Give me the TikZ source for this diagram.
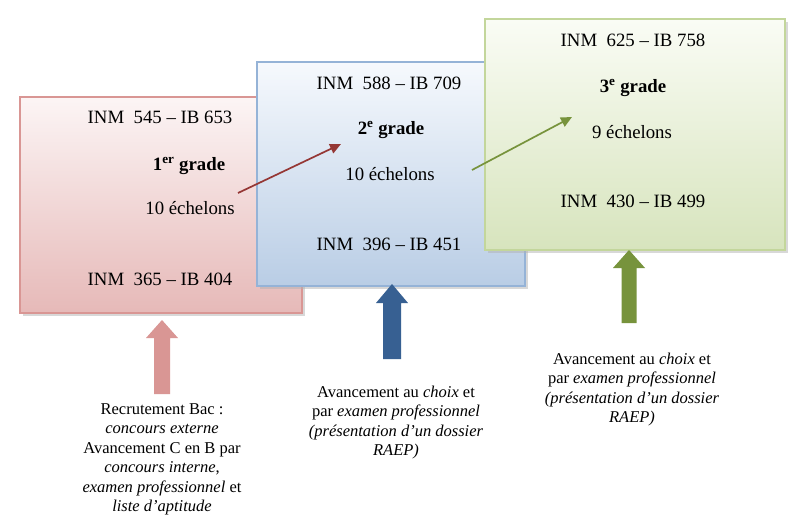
\documentclass[tikz,border=0pt]{standalone}
\usepackage{fontspec}
\setmainfont{Liberation Serif}
\usetikzlibrary{arrows.meta,shadows}
\definecolor{pinkline}{RGB}{217,150,148}
\definecolor{pinktop}{RGB}{252,245,245}
\definecolor{pinkbot}{RGB}{230,185,184}
\definecolor{blueline}{RGB}{149,179,215}
\definecolor{bluetop}{RGB}{246,249,253}
\definecolor{bluebot}{RGB}{185,205,229}
\definecolor{greenline}{RGB}{195,214,155}
\definecolor{greentop}{RGB}{250,252,245}
\definecolor{greenbot}{RGB}{215,228,189}
\definecolor{redarrow}{RGB}{149,55,53}
\definecolor{bluearrow}{RGB}{55,96,146}
\definecolor{greenarrow}{RGB}{119,147,60}
\tikzset{
  gradebox/.style={rectangle, line width=1.2pt, inner sep=0pt,
    drop shadow={shadow xshift=3pt, shadow yshift=-3pt, fill=black!30}},
  boxtext/.style={anchor=base, inner sep=0pt, font=\fontsize{18.8}{22}\selectfont},
  lowtext/.style={anchor=base, inner sep=0pt, align=center, font=\fontsize{16.5}{19.5}\selectfont},
  thinarrow/.style={line width=1.7pt, -{Triangle[length=11pt,width=10pt]}}
}
\begin{document}
\begin{tikzpicture}[x=1pt, y=-1pt]
\useasboundingbox[fill=white] (0,0) rectangle (800,531);
\node[gradebox, draw=pinkline, top color=pinktop, bottom color=pinkbot,
  minimum width=282pt, minimum height=216pt] (g1) at (161,205) {};
\node[gradebox, draw=blueline, top color=bluetop, bottom color=bluebot,
  minimum width=268pt, minimum height=224pt] (g2) at (391,174) {};
\node[gradebox, draw=greenline, top color=greentop, bottom color=greenbot,
  minimum width=300pt, minimum height=231pt] (g3) at (635,134.5) {};
\node[boxtext] (g1max) at (160,123) {INM\ \ 545 -- IB 653};
\node[boxtext] (g1name) at (189,170) {\textbf{1\textsuperscript{er} grade}};
\node[boxtext] (g1ech) at (190,214) {10 échelons};
\node[boxtext] (g1min) at (160,285) {INM\ \ 365 -- IB 404};
\node[boxtext] (g2max) at (389,89) {INM\ \ 588 -- IB 709};
\node[boxtext] (g2name) at (391,134) {\textbf{2\textsuperscript{e} grade}};
\node[boxtext] (g2ech) at (390,180) {10 échelons};
\node[boxtext] (g2min) at (389,250) {INM\ \ 396 -- IB 451};
\node[boxtext] (g3max) at (633,46) {INM\ \ 625 -- IB 758};
\node[boxtext] (g3name) at (633,92) {\textbf{3\textsuperscript{e} grade}};
\node[boxtext] (g3ech) at (632,138) {9 échelons};
\node[boxtext] (g3min) at (633,207) {INM\ \ 430 -- IB 499};
\coordinate (r1) at (238,193); \coordinate (r2) at (341,144);
\coordinate (v1) at (472,170); \coordinate (v2) at (572,117);
\draw[thinarrow, redarrow] (r1) -- (r2);
\draw[thinarrow, greenarrow] (v1) -- (v2);
\foreach \col/\cx/\tip/\base/\bot/\sh in {pinkline/162/320/338/394/8, bluearrow/392/284/303/359/9, greenarrow/629/250/268/323/7.5}
  \fill[\col] (\cx,\tip) -- (\cx+16,\base) -- (\cx+\sh,\base) -- (\cx+\sh,\bot)
    -- (\cx-\sh,\bot) -- (\cx-\sh,\base) -- (\cx-16,\base) -- cycle;
\node[lowtext] (acces1) at (162,511.5) {Recrutement Bac :\\ \textit{concours externe}\\
  Avancement C en B par\\ \textit{concours interne},\\ \textit{examen professionnel} et\\
  \textit{liste d'aptitude}};
\node[lowtext] (acces2) at (396,455.5) {Avancement au \textit{choix} et\\
  par \textit{examen professionnel}\\ \textit{(présentation d’un dossier}\\ \textit{RAEP)}};
\node[lowtext] (acces3) at (632,422.5) {Avancement au \textit{choix} et\\
  par \textit{examen professionnel}\\ \textit{(présentation d’un dossier}\\ \textit{RAEP)}};
\end{tikzpicture}
\end{document}
